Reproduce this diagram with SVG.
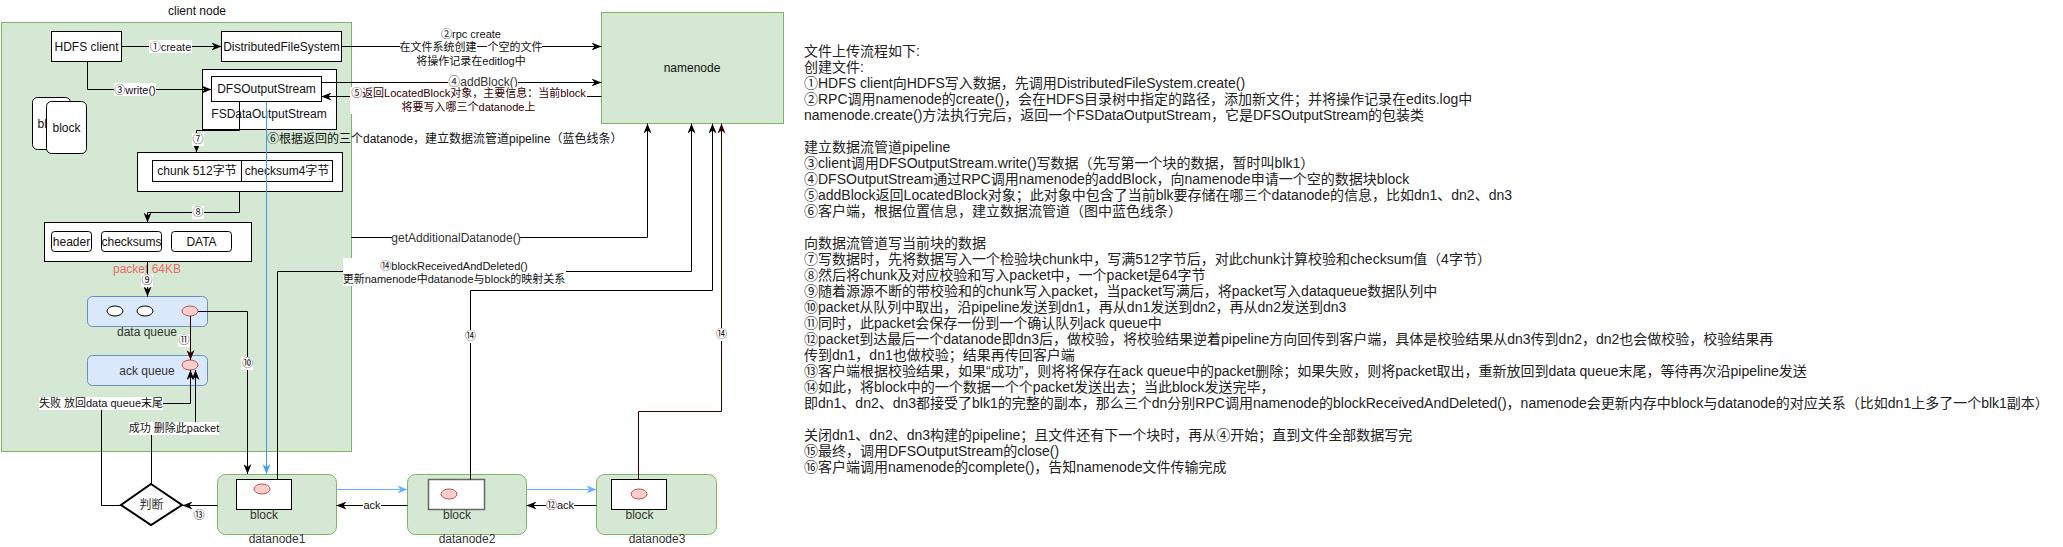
<svg xmlns="http://www.w3.org/2000/svg" width="2063" height="547" viewBox="0 0 2063 547">
<defs>
<style>
text { font-family: "Liberation Sans", "Noto Sans CJK SC", sans-serif; fill: #111; }
.f12 { font-size: 12px; }
.f11 { font-size: 11px; }
.mid { text-anchor: middle; }
.box { fill: #fff; stroke: #000; stroke-width: 1; }
.green { fill: #d5e8d4; stroke: #82b366; stroke-width: 1; }
.blueq { fill: #dae8fc; stroke: #6c8ebf; stroke-width: 1; }
.pink { fill: #f8cecc; stroke: #b85450; stroke-width: 1; }
.wht { fill: #fff; stroke: #000; stroke-width: 1; }
.edge { fill: none; stroke: #000; stroke-width: 1; }
.bl { fill: none; stroke: #3d9cf5; stroke-width: 1; }
.bl2 { fill: none; stroke: #66b2ff; stroke-width: 1; }
.dr { fill: none; stroke: #330000; stroke-width: 1; }
.lb { fill: #fff; stroke: none; }
.desc text { font-size: 14px; fill: #222; }
</style>
<marker id="ab" viewBox="0 0 10 8" refX="10" refY="4" markerWidth="10" markerHeight="8" markerUnits="userSpaceOnUse" orient="auto"><path d="M0,0 L10,4 L0,8 L3,4 z" fill="#000"/></marker>
<marker id="abl" viewBox="0 0 10 8" refX="10" refY="4" markerWidth="10" markerHeight="8" markerUnits="userSpaceOnUse" orient="auto"><path d="M0,0 L10,4 L0,8 L3,4 z" fill="#3d9cf5"/></marker>
<marker id="abl2" viewBox="0 0 10 8" refX="10" refY="4" markerWidth="10" markerHeight="8" markerUnits="userSpaceOnUse" orient="auto"><path d="M0,0 L10,4 L0,8 L3,4 z" fill="#66b2ff"/></marker>
<marker id="adr" viewBox="0 0 10 8" refX="10" refY="4" markerWidth="10" markerHeight="8" markerUnits="userSpaceOnUse" orient="auto"><path d="M0,0 L10,4 L0,8 L3,4 z" fill="#330000"/></marker>
</defs>
<rect x="0" y="0" width="2063" height="547" fill="#fff"/>

<g id="client-node">
<rect x="1.5" y="22.5" width="350" height="429" class="green"/>
<text x="197" y="15" class="f12 mid">client node</text>
</g>

<g id="namenode">
<rect x="601.5" y="12.5" width="182" height="111" class="green"/>
<text x="692" y="72" class="f12 mid">namenode</text>
</g>

<g id="hdfs-client">
<rect x="51.5" y="31.5" width="70" height="30" class="box"/>
<text x="86.5" y="50.5" class="f12 mid">HDFS client</text>
</g>

<g id="distributed-fs">
<rect x="221.5" y="31.5" width="120" height="30" class="box"/>
<text x="281.5" y="50.5" class="f12 mid">DistributedFileSystem</text>
</g>

<g id="fsdataoutputstream">
<rect x="202.5" y="69.5" width="134" height="60" class="box"/>
<text x="269" y="118" class="f12 mid">FSDataOutputStream</text>
</g>

<g id="dfsoutputstream">
<rect x="211.5" y="76.5" width="110" height="25" class="box"/>
<text x="266.5" y="93" class="f12 mid">DFSOutputStream</text>
</g>

<g id="block-cards">
<rect x="32.5" y="97.5" width="38" height="52" rx="5" class="box"/>
<text x="37.5" y="128" class="f12">bl</text>
<rect x="46.5" y="101.5" width="40" height="52" rx="5" class="box"/>
<text x="66.5" y="132" class="f12 mid">block</text>
</g>

<g id="chunk">
<rect x="137.5" y="152.5" width="205" height="39" class="box"/>
<rect x="152.5" y="160.5" width="89" height="21" class="box"/>
<rect x="241.5" y="160.5" width="91" height="21" class="box"/>
<text x="197" y="175" class="f12 mid">chunk 512字节</text>
<text x="287" y="175" class="f12 mid">checksum4字节</text>
</g>

<g id="packet">
<rect x="44.5" y="222.5" width="207" height="39" class="box"/>
<rect x="51.5" y="231.5" width="40" height="20" rx="3" class="box"/>
<rect x="101.5" y="231.5" width="60" height="20" rx="3" class="box"/>
<rect x="171.5" y="231.5" width="60" height="20" rx="3" class="box"/>
<text x="71.5" y="245.5" class="f12 mid">header</text>
<text x="131.5" y="245.5" class="f12 mid">checksums</text>
<text x="201.5" y="245.5" class="f12 mid">DATA</text>
<text x="147" y="273" class="f12 mid" style="fill:#ea6b66">packet 64KB</text>
</g>

<g id="data-queue">
<rect x="87.5" y="296.5" width="120" height="30" rx="5" class="blueq"/>
<ellipse cx="115" cy="311" rx="8" ry="5" class="wht"/>
<ellipse cx="145" cy="311" rx="8" ry="5" class="wht"/>
<ellipse cx="190" cy="311" rx="8" ry="5" class="pink"/>
<text x="147" y="336" class="f12 mid" style="fill:#333">data queue</text>
</g>

<g id="ack-queue">
<rect x="87.5" y="355.5" width="120" height="30" rx="5" class="blueq"/>
<ellipse cx="190" cy="365" rx="8" ry="5" class="pink"/>
<text x="147" y="375" class="f12 mid" style="fill:#333">ack queue</text>
</g>

<g id="judge">
<polygon points="151,484 182,505 151,525 121,505" fill="#fff" stroke="#000" stroke-width="2"/>
<text x="151.5" y="509" class="f12 mid" style="fill:#333">判断</text>
</g>

<g id="datanode1">
<rect x="217.5" y="474.5" width="119" height="60" rx="8" class="green"/>
<rect x="236.5" y="479.5" width="55" height="30" class="box"/>
<ellipse cx="262" cy="489" rx="8" ry="5" class="pink"/>
<text x="264" y="519" class="f12 mid" style="fill:#333">block</text>
<text x="277" y="543" class="f12 mid" style="fill:#333">datanode1</text>
</g>

<g id="datanode2">
<rect x="407.5" y="474.5" width="119" height="60" rx="8" class="green"/>
<rect x="428.5" y="479.5" width="56" height="30" fill="#fff" stroke="#666" stroke-width="1.5"/>
<ellipse cx="449" cy="494" rx="8" ry="5" class="pink"/>
<text x="457" y="519" class="f12 mid" style="fill:#333">block</text>
<text x="467" y="543" class="f12 mid" style="fill:#333">datanode2</text>
</g>

<g id="datanode3">
<rect x="596.5" y="474.5" width="120" height="60" rx="8" class="green"/>
<rect x="611.5" y="479.5" width="55" height="30" class="box"/>
<ellipse cx="639" cy="494" rx="8" ry="5" class="pink"/>
<text x="639.5" y="519" class="f12 mid" style="fill:#333">block</text>
<text x="657" y="543" class="f12 mid" style="fill:#333">datanode3</text>
</g>

<g id="connectors">
<path d="M121.5,46.5 H221.5" class="edge" marker-end="url(#ab)"/>
<path d="M341.5,46.5 H601.5" class="edge" marker-end="url(#ab)"/>
<path d="M87.5,61.5 V89.5 H211.5" class="edge" marker-end="url(#ab)"/>
<path d="M321.5,82.5 H601.5" class="edge" marker-end="url(#ab)"/>
<path d="M601.5,96.5 H321.5" class="edge" marker-end="url(#ab)"/>
<path d="M239.5,101.5 V130.5 H196.5 V152.5" class="edge" marker-end="url(#ab)"/>
<path d="M266.5,101.5 V474" class="bl" marker-end="url(#abl)"/>
<path d="M239.5,191.5 V212.5 H147.5 V222.5" class="edge" marker-end="url(#ab)"/>
<path d="M147.5,261.5 V296.5" class="edge" marker-end="url(#ab)"/>
<path d="M198,311.5 H247.5 V474" class="edge" marker-end="url(#ab)"/>
<path d="M190.5,316 V360" class="dr" marker-end="url(#adr)"/>
<path d="M217.5,505.5 H182.5" class="edge" marker-end="url(#ab)"/>
<path d="M121,505.5 H101.5 V403.5 H190.5 V370" class="edge" marker-end="url(#ab)"/>
<path d="M151.5,484 V428.5 H195.5 V370" class="edge" marker-end="url(#ab)"/>
<path d="M277.5,479.5 V271.5 H691.5 V123.5" class="edge" marker-end="url(#ab)"/>
<path d="M351.5,237.5 H647.5 V123.5" class="edge" marker-end="url(#ab)"/>
<path d="M470.5,479.5 V290.5 H712.5 V123.5" class="edge" marker-end="url(#ab)"/>
<path d="M638.5,479.5 V411.5 H721.5 V123.5" class="dr" marker-end="url(#adr)"/>
<path d="M336.5,489.5 H407.5" class="bl2" marker-end="url(#abl2)"/>
<path d="M526.5,489.5 H596.5" class="bl2" marker-end="url(#abl2)"/>
<path d="M407.5,505.5 H336.5" class="edge" marker-end="url(#ab)"/>
<path d="M596.5,505.5 H526.5" class="edge" marker-end="url(#ab)"/>

<rect x="149" y="40" width="43" height="13" class="lb"/>
<text x="170.5" y="50.5" class="f11 mid">①create</text>
<rect x="400" y="27" width="142" height="41" class="lb"/>
<text x="471" y="38" class="f11 mid">②rpc create</text>
<text x="471" y="51" class="f11 mid">在文件系统创建一个空的文件</text>
<text x="471" y="65" class="f11 mid">将操作记录在editlog中</text>
<rect x="114" y="83" width="42" height="13" class="lb"/>
<text x="135" y="93.5" class="f11 mid">③write()</text>
<rect x="448" y="75" width="70" height="13" class="lb"/>
<text x="483" y="85.5" class="f12 mid" style="fill:#333">④addBlock()</text>
<rect x="350" y="87" width="237" height="27" class="lb"/>
<text x="468.5" y="97" class="f11 mid" style="fill:#330000">⑤返回LocatedBlock对象，主要信息：当前block</text>
<text x="468.5" y="111" class="f11 mid" style="fill:#330000">将要写入哪三个datanode上</text>
<rect x="192" y="133" width="12" height="13" class="lb"/>
<text x="198" y="143" class="f11 mid">⑦</text>
<text x="267" y="143" class="f12">⑥根据返回的三个datanode，建立数据流管道pipeline（蓝色线条）</text>
<rect x="192" y="206" width="12" height="13" class="lb"/>
<text x="198" y="216" class="f11 mid">⑧</text>
<rect x="141" y="274" width="12" height="13" class="lb"/>
<text x="147" y="284" class="f11 mid">⑨</text>
<rect x="241" y="357" width="12" height="13" class="lb"/>
<text x="247.5" y="367" class="f11 mid">⑩</text>
<rect x="178" y="334" width="12" height="13" class="lb"/>
<text x="184" y="344" class="f11 mid">⑪</text>
<rect x="193" y="509" width="12" height="13" class="lb"/>
<text x="199" y="519" class="f11 mid">⑬</text>
<rect x="39" y="397" width="124" height="13" class="lb"/>
<text x="101" y="407" class="f11 mid">失败 放回data queue末尾</text>
<rect x="129" y="422" width="90" height="13" class="lb"/>
<text x="174" y="432" class="f11 mid">成功 删除此packet</text>
<rect x="392" y="230" width="128" height="14" class="lb"/>
<text x="456" y="241.5" class="f12 mid" style="fill:#333">getAdditionalDatanode()</text>
<rect x="343" y="258" width="223" height="28" class="lb"/>
<text x="454" y="270" class="f11 mid">⑭blockReceivedAndDeleted()</text>
<text x="454" y="283" class="f11 mid">更新namenode中datanode与block的映射关系</text>
<rect x="464" y="330" width="12" height="13" class="lb"/>
<text x="470.5" y="340" class="f11 mid">⑭</text>
<rect x="715" y="328" width="12" height="13" class="lb"/>
<text x="721.5" y="338" class="f11 mid">⑭</text>
<rect x="363" y="499" width="18" height="13" class="lb"/>
<text x="372" y="509" class="f11 mid">ack</text>
<rect x="546" y="499" width="28" height="13" class="lb"/>
<text x="560" y="509" class="f11 mid">⑫ack</text>
</g>

<g id="description" class="desc">
<text x="804" y="56">文件上传流程如下:</text>
<text x="804" y="72">创建文件:</text>
<text x="804" y="88">①HDFS client向HDFS写入数据，先调用DistributedFileSystem.create()</text>
<text x="804" y="104">②RPC调用namenode的create()，会在HDFS目录树中指定的路径，添加新文件；并将操作记录在edits.log中</text>
<text x="804" y="120">namenode.create()方法执行完后，返回一个FSDataOutputStream，它是DFSOutputStream的包装类</text>
<text x="804" y="152">建立数据流管道pipeline</text>
<text x="804" y="168">③client调用DFSOutputStream.write()写数据（先写第一个块的数据，暂时叫blk1）</text>
<text x="804" y="184">④DFSOutputStream通过RPC调用namenode的addBlock，向namenode申请一个空的数据块block</text>
<text x="804" y="200">⑤addBlock返回LocatedBlock对象；此对象中包含了当前blk要存储在哪三个datanode的信息，比如dn1、dn2、dn3</text>
<text x="804" y="216">⑥客户端，根据位置信息，建立数据流管道（图中蓝色线条）</text>
<text x="804" y="248">向数据流管道写当前块的数据</text>
<text x="804" y="264">⑦写数据时，先将数据写入一个检验块chunk中，写满512字节后，对此chunk计算校验和checksum值（4字节）</text>
<text x="804" y="280">⑧然后将chunk及对应校验和写入packet中，一个packet是64字节</text>
<text x="804" y="296">⑨随着源源不断的带校验和的chunk写入packet，当packet写满后，将packet写入dataqueue数据队列中</text>
<text x="804" y="312">⑩packet从队列中取出，沿pipeline发送到dn1，再从dn1发送到dn2，再从dn2发送到dn3</text>
<text x="804" y="328">⑪同时，此packet会保存一份到一个确认队列ack queue中</text>
<text x="804" y="344">⑫packet到达最后一个datanode即dn3后，做校验，将校验结果逆着pipeline方向回传到客户端，具体是校验结果从dn3传到dn2，dn2也会做校验，校验结果再</text>
<text x="804" y="360">传到dn1，dn1也做校验；结果再传回客户端</text>
<text x="804" y="376">⑬客户端根据校验结果，如果“成功”，则将将保存在ack queue中的packet删除；如果失败，则将packet取出，重新放回到data queue末尾，等待再次沿pipeline发送</text>
<text x="804" y="392">⑭如此，将block中的一个数据一个个packet发送出去；当此block发送完毕，</text>
<text x="804" y="408">即dn1、dn2、dn3都接受了blk1的完整的副本，那么三个dn分别RPC调用namenode的blockReceivedAndDeleted()，namenode会更新内存中block与datanode的对应关系（比如dn1上多了一个blk1副本）</text>
<text x="804" y="440">关闭dn1、dn2、dn3构建的pipeline；且文件还有下一个块时，再从④开始；直到文件全部数据写完</text>
<text x="804" y="456">⑮最终，调用DFSOutputStream的close()</text>
<text x="804" y="472">⑯客户端调用namenode的complete()，告知namenode文件传输完成</text>
</g>
</svg>
